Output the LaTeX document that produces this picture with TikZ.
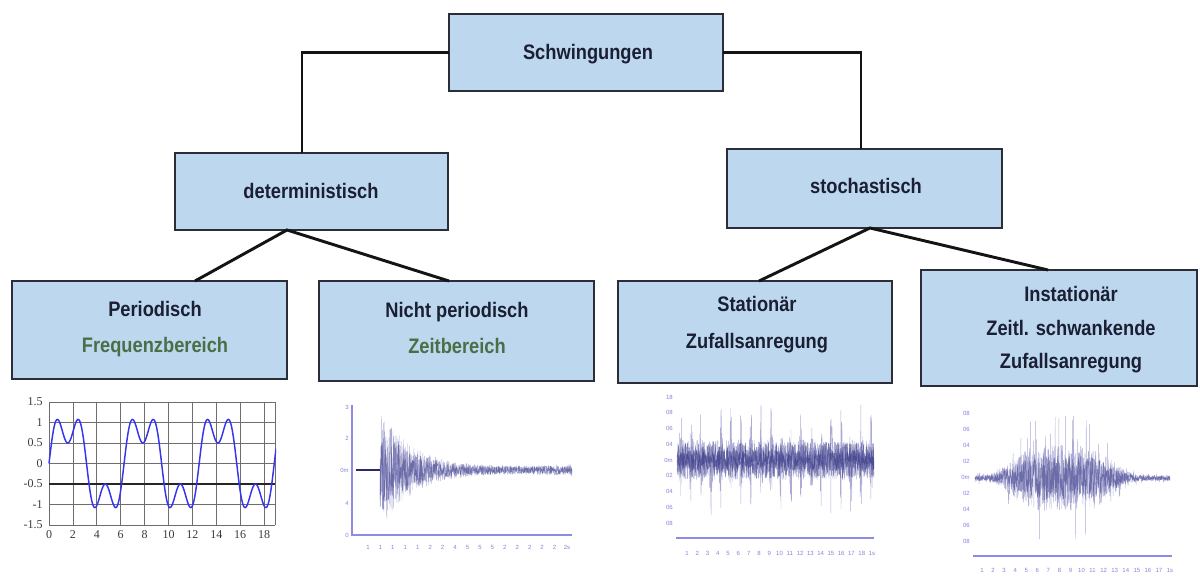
\documentclass[tikz,border=0pt]{standalone}
\usepackage{fontspec}
\setmainfont{Liberation Sans}[FakeStretch=0.87]
\newfontfamily\axisfont{Liberation Serif}
\newfontfamily\tickfont{Liberation Sans}
\usetikzlibrary{calc}

\definecolor{boxfill}{HTML}{BDD7EE}
\definecolor{boxline}{HTML}{2B2D38}
\definecolor{ink}{HTML}{1B1F33}
\definecolor{greenink}{HTML}{4A6F47}
\definecolor{gridgray}{HTML}{6E6E6E}
\definecolor{labgray}{HTML}{3A3A3A}
\definecolor{sinblue}{HTML}{3535EE}
\definecolor{axislav}{HTML}{8C8CE6}
\definecolor{ticklav}{HTML}{8383D8}
\definecolor{sigblue}{HTML}{3A3A9E}

% box spanning pixel corners (x1,y1)-(x2,y2)
\newcommand\mkbox[5]{%
  \node[box, minimum width={(#4-#2)*0.75pt}, minimum height={(#5-#3)*0.75pt}]
    (#1) at ({(#2+#4)/2},{(#3+#5)/2}) {};}

\begin{document}
\begin{tikzpicture}[x=0.75pt, y=-0.75pt,
  box/.style={draw=boxline, line width=1.5pt, fill=boxfill, inner sep=0pt, outer sep=0pt},
  link/.style={draw=black!92, line width=2.2pt},
  lbl/.style={font=\bfseries\fontsize{15.75}{18}\selectfont, text=ink, anchor=base, inner sep=0pt},
  sub/.style={lbl, text=greenink},
  grid/.style={draw=gridgray, line width=0.6pt},
  ylab/.style={font=\axisfont\fontsize{9}{10}\selectfont, text=labgray, anchor=east, inner sep=0pt},
  xlab/.style={font=\axisfont\fontsize{9}{10}\selectfont, text=labgray, anchor=center, inner sep=0pt},
  tick/.style={font=\tickfont\fontsize{4.5}{5}\selectfont, text=ticklav, inner sep=0pt},
  axis/.style={draw=axislav, line width=0.8pt},
  sig/.style={draw=sigblue!85, line width=0.3pt, draw opacity=0.5, line join=bevel},
  sigcore/.style={draw=sigblue!80!black, line width=0.35pt, draw opacity=0.5, line join=bevel}]
\useasboundingbox (0,0) rectangle (1200,578);
\pgfmathsetseed{4242}

% ---------- hierarchy boxes ----------
\mkbox{S}{449}{14}{723}{91}
\mkbox{D}{175}{153}{448}{230}
\mkbox{St}{727}{149}{1002}{228}
\mkbox{P}{12}{281}{287}{379}
\mkbox{N}{319}{281}{594}{381}
\mkbox{Sta}{618}{281}{892}{383}
\mkbox{I}{921}{270}{1197}{386}

% ---------- connectors ----------
\draw[link] (S.west) -| ($(D.north)+(-9.5,0)$);
\draw[link] (S.east) -| ($(St.north)+(-3.5,0)$);
\coordinate (dfork) at ($(D.south)+(-24.5,0)$);
\draw[link] ($(P.north)+(45.5,0)$) -- (dfork) -- ($(N.north)+(-7.5,0)$);
\coordinate (sfork) at ($(St.south)+(5.5,0)$);
\draw[link] ($(Sta.north)+(4,0)$) -- (sfork) -- ($(I.north)+(-11,0)$);

% ---------- box texts ----------
\node[lbl] (tS)   at (588,59)  {Schwingungen};
\node[lbl] (tD)   at (311,198) {deterministisch};
\node[lbl] (tSt)  at (866,193) {stochastisch};
\node[lbl] (tP1)  at (155,316) {Periodisch};
\node[sub] (tP2)  at (155,352) {Frequenzbereich};
\node[lbl] (tN1)  at (457,317) {Nicht periodisch};
\node[sub] (tN2)  at (457,353) {Zeitbereich};
\node[lbl] (tSa1) at (757,311) {Stationär};
\node[lbl] (tSa2) at (757,348) {Zufallsanregung};
\node[lbl] (tI1)  at (1071,301) {Instationär};
\node[lbl] (tI2)  at (1071,335) {Zeitl. schwankende};
\node[lbl] (tI3)  at (1071,368) {Zufallsanregung};

% ---------- periodic signal with grid ----------
\foreach \k in {0,...,9}
  \draw[grid] ({49+23.9*\k},402) -- ({49+23.9*\k},525);
\draw[grid] (275,402) -- (275,525);
\foreach \j in {0,...,6}
  \draw[grid] (49,{402+20.5*\j}) -- (275,{402+20.5*\j});
\draw[line width=0.9pt, black!85] (49,484) -- (275,484);
\foreach \t [count=\j from 0] in {1.5,1,0.5,0,-0.5,-1,-1.5}
  \node[ylab] (py\j) at (43,{402+20.5*\j}) {\t};
\foreach \t [count=\k from 0] in {0,2,4,6,8,10,12,14,16,18}
  \node[xlab] (px\k) at ({49+23.9*\k},535) {\t};
\begin{scope}
  \clip (48,395) rectangle (276,532);
  \draw[sinblue, line width=1.1pt, line join=round]
    plot[domain=0:19, samples=320]
    ({49+11.95*\x}, {463.5-41*(sin(deg(\x))+0.5*sin(deg(3*\x)))});
\end{scope}

% ---------- transient (decaying) signal ----------
\draw[axis] (352,405) -- (352,535) -- (572,535);
\foreach \t/\yy [count=\j] in {3/407, 2/438, 0m/470, 4/503, 0/535}
  \node[tick, anchor=east] (ny\j) at (349,\yy) {\t};
\foreach \t [count=\k from 0] in {1,1,1,1,1,2,2,4,5,5,5,2,2,2,2,2,2s}
  \node[tick] (nx\k) at ({368+12.44*\k},547) {\t};
\draw[sigblue!70!black, line width=0.9pt] (356,470) -- (380,470);
\draw[sig] plot[domain=380:572, samples=900]
  (\x, {470+(58*exp(-(\x-380)/34)+2+4*((\x-380)/192)*((\x-380)/192)*((\x-380)/192))*rand});
\draw[sigcore] plot[domain=380:572, samples=700]
  (\x, {470+(42*exp(-(\x-380)/34)+1.8+2.5*((\x-380)/192)*((\x-380)/192))*rand});

% ---------- stationary random signal ----------
\foreach \t [count=\j from 0] in {18,08,06,04,0m,02,04,06,08}
  \node[tick, anchor=east] (sy\j) at (673,{397+15.75*\j}) {\t};
\draw[axis, line width=1.4pt] (676,538) -- (874,538);
\foreach \t [count=\k from 0] in {1,2,3,4,5,6,7,8,9,10,11,12,13,14,15,16,17,18,1s}
  \node[tick] (sx\k) at ({687+10.28*\k},553) {\t};
\draw[sig] plot[domain=677:874, samples=1100]
  (\x, {460+(20+36*exp(5*(cos(36*(\x-681))-1)))*rand});
\draw[sigcore] plot[domain=677:874, samples=900] (\x, {460+18*rand});
\draw[sigcore] plot[domain=677:874, samples=600] (\x, {460+10*rand});

% ---------- non-stationary random signal ----------
\foreach \t [count=\j from 0] in {08,06,04,02,0m,02,04,06,08}
  \node[tick, anchor=east] (iy\j) at (970,{413+16.1*\j}) {\t};
\draw[axis, line width=1.4pt] (973,556) -- (1172,556);
\foreach \t [count=\k from 0] in {1,2,3,4,5,6,7,8,9,10,11,12,13,14,15,16,17,1s}
  \node[tick] (ix\k) at ({982+11.06*\k},570) {\t};
\draw[sig] plot[domain=975:1170, samples=1000]
  (\x, {478+(3+30*exp(-1*((\x-1062)*(\x-1062)/3025)*((\x-1062)*(\x-1062)/3025)))*(1+0.9*(rnd>0.88))*rand});
\draw[sigcore] plot[domain=975:1170, samples=800]
  (\x, {478+(2.5+20*exp(-1*((\x-1062)*(\x-1062)/3025)*((\x-1062)*(\x-1062)/3025)))*rand});

\end{tikzpicture}
\end{document}
